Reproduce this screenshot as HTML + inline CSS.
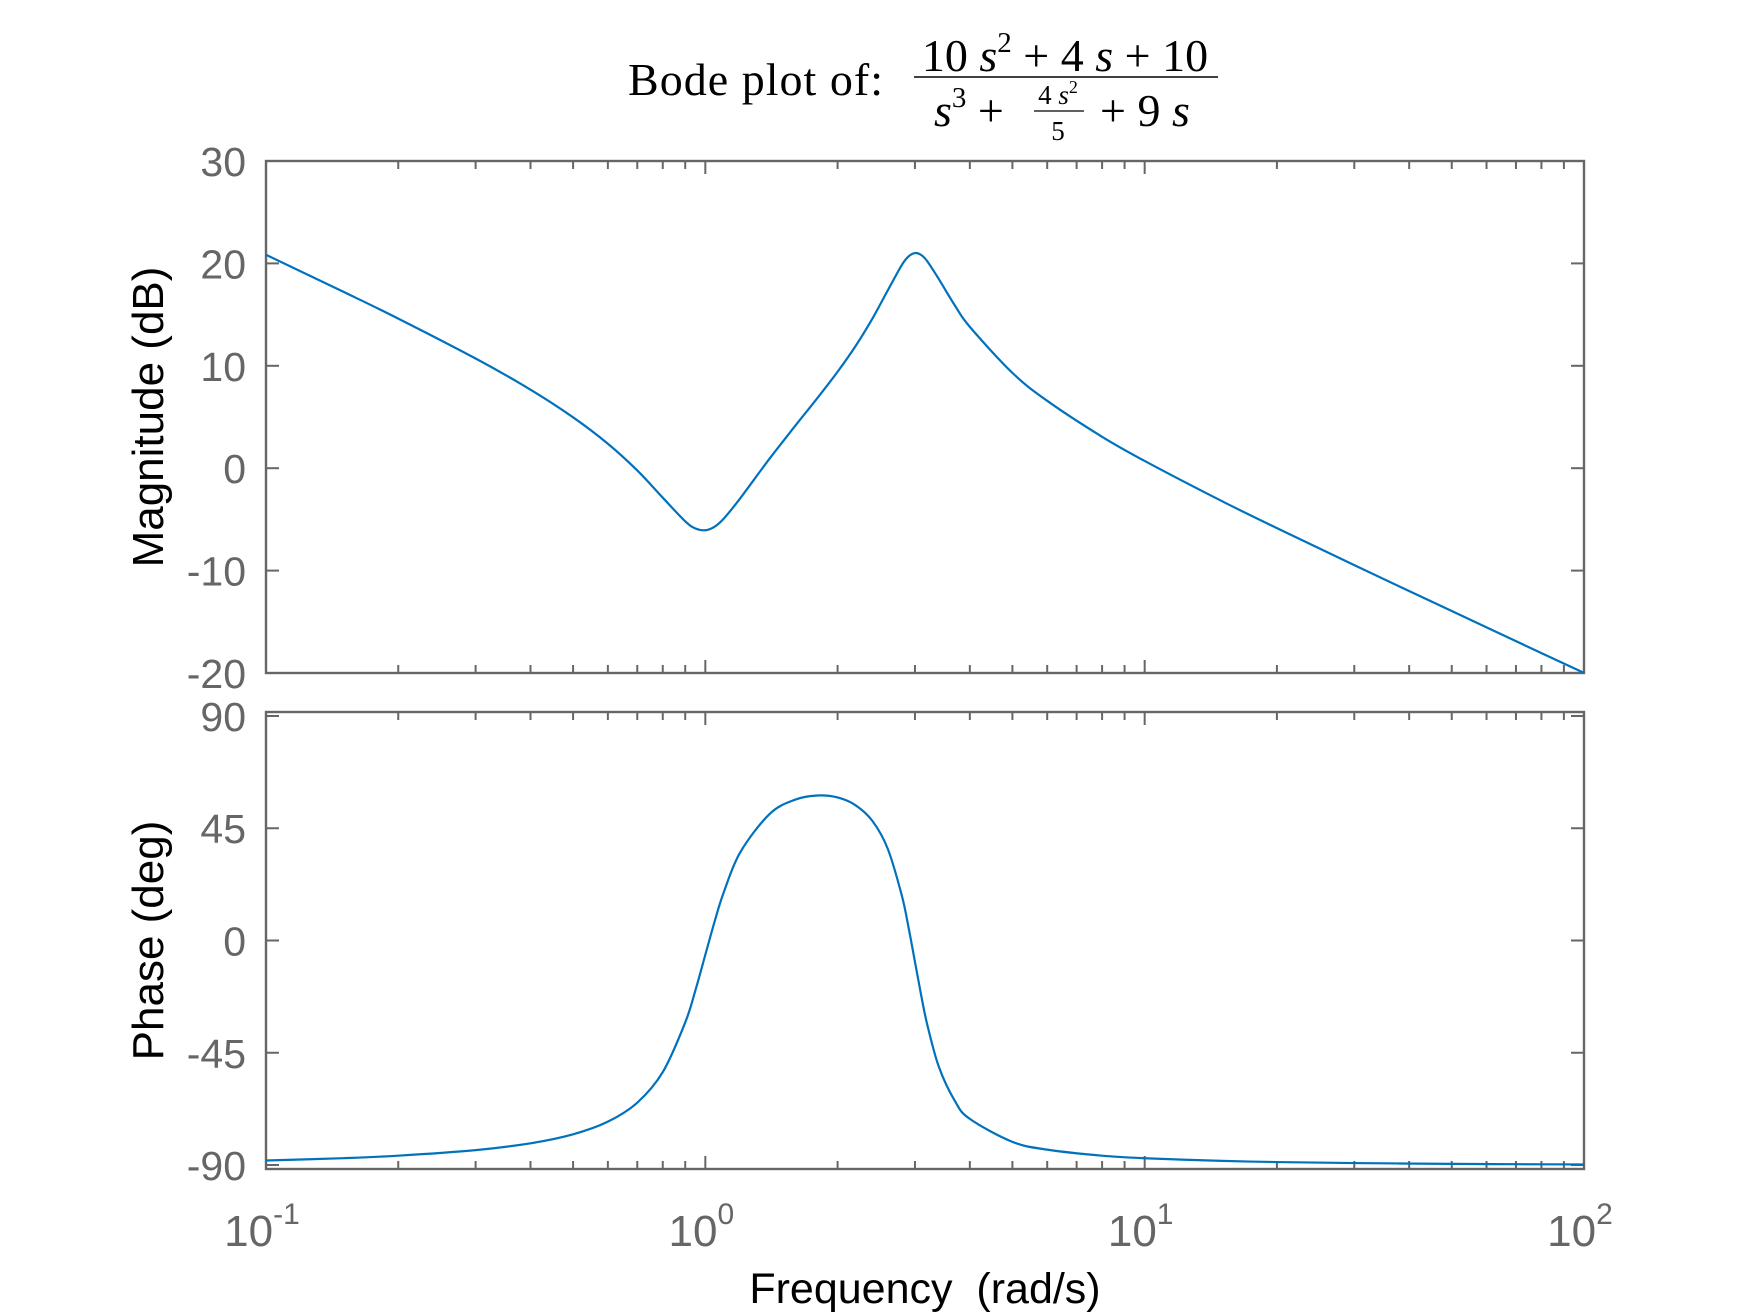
<!DOCTYPE html>
<html><head><meta charset="utf-8"><style>
html,body{margin:0;padding:0;background:#fff;}
svg{display:block;}
</style></head><body>
<svg id="chart" width="1750" height="1313" viewBox="0 0 1750 1313" xmlns="http://www.w3.org/2000/svg">
<g font-family="Liberation Serif, serif" fill="#000">
  <text x="628" y="95" font-size="46" textLength="255">Bode plot of:</text>
  <text x="1065" y="71" font-size="46" text-anchor="middle">10 <tspan font-style="italic">s</tspan><tspan font-size="29" dy="-19">2</tspan><tspan dy="19"> + 4 </tspan><tspan font-style="italic">s</tspan> + 10</text>
  <line x1="914" y1="77" x2="1218" y2="77" stroke="#000" stroke-width="1.6"/>
  <text x="934" y="126" font-size="46"><tspan font-style="italic">s</tspan><tspan font-size="29" dy="-19">3</tspan><tspan dy="19"> +</tspan></text>
  <text x="1058" y="104" font-size="27" text-anchor="middle">4 <tspan font-style="italic">s</tspan><tspan font-size="18" dy="-11">2</tspan></text>
  <line x1="1034" y1="111" x2="1084" y2="111" stroke="#000" stroke-width="1.2"/>
  <text x="1058" y="140" font-size="27" text-anchor="middle">5</text>
  <text x="1100" y="126" font-size="46">+ 9 <tspan font-style="italic">s</tspan></text>
</g>
<g id="plots"></g>
</svg>
<script>
const freqs = [0.1,0.15,0.2,0.3,0.4,0.5,0.6,0.7,0.8,0.9,0.95,1.0,1.05,1.1,1.2,1.4,1.6,1.8,2.0,2.2,2.4,2.6,2.8,2.9,3.0,3.1,3.2,3.4,3.7,4,5,6,8,10,15,20,30,50,70,100];
const magDb = [20.84,17.23,14.61,10.71,7.67,4.97,2.39,-0.22,-2.88,-5.19,-5.89,-6.06,-5.71,-4.95,-2.95,0.93,4.11,6.86,9.42,11.96,14.60,17.34,19.84,20.67,21.01,20.82,20.21,18.47,15.88,13.80,9.31,6.58,3.07,0.71,-3.22,-5.85,-9.47,-13.95,-16.89,-19.99];
const phaseDeg = [-88.2,-87.26,-86.26,-84.03,-81.29,-77.69,-72.62,-65.0,-52.75,-32.84,-19.75,-5.71,7.64,19.06,35.27,50.7,56.45,58.14,57.33,54.16,47.95,36.89,18.08,5.37,-8.53,-22.02,-33.73,-50.6,-64.39,-71.52,-80.72,-83.84,-86.27,-87.29,-88.35,-88.81,-89.22,-89.54,-89.67,-89.77];
const magTicks = [-20,-10,0,10,20,30];
const magTickLabels = ["-20","-10","0","10","20","30"];
const phaseTicks = [-90,-45,0,45,90];
const phaseTickLabels = ["-90","-45","0","45","90"];
const decades = [-1,0,1,2];

const NS='http://www.w3.org/2000/svg';
const root=document.getElementById('plots');
const X0=266,X1=1584;
function xs(w){return X0+(Math.log10(w)+1)/3*(X1-X0);}
function mk(tag,attrs,parent){const e=document.createElementNS(NS,tag);for(const k in attrs)e.setAttribute(k,attrs[k]);(parent||root).appendChild(e);return e;}
function smoothPath(pts){
  let d='M'+pts[0][0].toFixed(2)+' '+pts[0][1].toFixed(2);
  for(let i=0;i<pts.length-1;i++){
    const p0=pts[Math.max(0,i-1)],p1=pts[i],p2=pts[i+1],p3=pts[Math.min(pts.length-1,i+2)];
    const c1x=p1[0]+(p2[0]-p0[0])/6,c1y=p1[1]+(p2[1]-p0[1])/6;
    const c2x=p2[0]-(p3[0]-p1[0])/6,c2y=p2[1]-(p3[1]-p1[1])/6;
    d+='C'+c1x.toFixed(2)+' '+c1y.toFixed(2)+' '+c2x.toFixed(2)+' '+c2y.toFixed(2)+' '+p2[0].toFixed(2)+' '+p2[1].toFixed(2);
  }
  return d;
}

function panel(name,top,bot,ymin,ymax,ticks,labels,vals,ylabel){
  const g=mk('g',{});
  
  
  const ys=v=>bot-(v-ymin)/(ymax-ymin)*(bot-top);
  const gray='#666';
  decades.forEach((d,i)=>{
    for(let m=1;m<=9;m++){
      if(i===decades.length-1 && m>1) break;
      const w=m*Math.pow(10,d); const x=xs(w); const L=m===1?13:8;
      const t1=mk('line',{x1:x,y1:bot,x2:x,y2:bot-L,stroke:gray,'stroke-width':2},g);
      
      
      const t2=mk('line',{x1:x,y1:top,x2:x,y2:top+L,stroke:gray,'stroke-width':2},g);
      
      
    }
  });
  ticks.forEach((v,i)=>{
    const y=ys(v);
    const a=mk('line',{x1:X0,y1:y,x2:X0+13,y2:y,stroke:gray,'stroke-width':2},g);
    
    
    const b=mk('line',{x1:X1,y1:y,x2:X1-13,y2:y,stroke:gray,'stroke-width':2},g);
    
    
    const t=mk('text',{x:246,y:y+15,'font-size':41,'font-family':'Liberation Sans, sans-serif',fill:gray,'text-anchor':'end'},g);
    
    
    t.textContent=labels[i];
  });
  const box=mk('rect',{x:X0,y:top,width:X1-X0,height:bot-top,fill:'none',stroke:gray,'stroke-width':2.4},g);
  
  
  const pts=freqs.map((w,i)=>[xs(w),ys(vals[i])]);
  const p=mk('path',{d:smoothPath(pts),fill:'none',stroke:'#0072BD','stroke-width':2.2,'stroke-linejoin':'round'},g);
  
  
  const cy=(top+bot)/2;
  const yl=mk('text',{x:0,y:0,transform:'translate(163,'+cy+') rotate(-90)','font-size':44,'font-family':'Liberation Sans, sans-serif',fill:'#000','text-anchor':'middle'},g);
  
  
  yl.textContent=ylabel;
}
panel('magnitude',161,673,-20,30,magTicks,magTickLabels,magDb,'Magnitude (dB)');
panel('phase',712,1169,-91.6,91.6,phaseTicks,phaseTickLabels,phaseDeg,'Phase (deg)');

decades.forEach(d=>{
  const x=xs(Math.pow(10,d));
  const t=mk('text',{x:x-4,y:1246,'font-size':44,'font-family':'Liberation Sans, sans-serif',fill:'#666','text-anchor':'middle'});
  
  
  t.innerHTML='10<tspan font-size="30" dy="-22">'+d+'</tspan>';
});
const xt=mk('text',{x:925,y:1303,'font-size':43,'font-family':'Liberation Sans, sans-serif',fill:'#000','text-anchor':'middle'});


xt.textContent='Frequency\u00a0\u00a0(rad/s)';
</script>
</body></html>
